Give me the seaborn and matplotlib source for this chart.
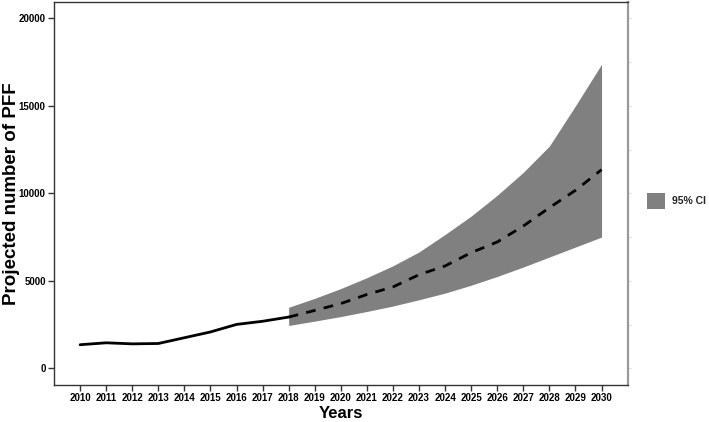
import matplotlib
matplotlib.use("Agg")
import matplotlib.pyplot as plt
from matplotlib import font_manager
import seaborn as sns
import pandas as pd
from matplotlib.patches import Patch

hist_years = [2010, 2011, 2012, 2013, 2014, 2015, 2016, 2017, 2018]
hist_values = [1350, 1460, 1400, 1420, 1750, 2080, 2510, 2690, 2930]

proj_years = [2018, 2019, 2020, 2021, 2022, 2023, 2024, 2025, 2026, 2027, 2028, 2029, 2030]
proj_values = [2930, 3310, 3700, 4220, 4650, 5350, 5850, 6610, 7220, 8130, 9180, 10170, 11350]
ci_lower = [2450, 2700, 2960, 3250, 3560, 3920, 4300, 4750, 5250, 5790, 6360, 6930, 7500]
ci_upper = [3490, 4000, 4560, 5180, 5860, 6650, 7650, 8700, 9890, 11200, 12700, 15000, 17370]

x_ticks = list(range(2010, 2031))
y_ticks = [0, 5000, 10000, 15000, 20000]
right_ticks = [0, 2500, 5000, 7500, 10000, 12500, 15000, 17500, 20000]

font_manager.fontManager.ttflist = [f for f in font_manager.fontManager.ttflist
                                    if "Narrow" not in f.name and "Narrow" not in f.fname]

sns.set_theme(style="ticks")
plt.rcParams['font.family'] = ['Liberation Sans', 'DejaVu Sans']

fig = plt.figure(figsize=(7.09, 4.22), dpi=100)
ax = fig.add_axes([0.0762, 0.0877, 0.809, 0.9076])

hist = pd.DataFrame({"year": hist_years, "value": hist_values})
proj = pd.DataFrame({"year": proj_years, "value": proj_values,
                     "lo": ci_lower, "hi": ci_upper})

ax.fill_between(proj["year"], proj["lo"], proj["hi"], color="#808080", linewidth=0)
sns.lineplot(data=hist, x="year", y="value", ax=ax, color="black", linewidth=2)
sns.lineplot(data=proj, x="year", y="value", ax=ax, color="black", linewidth=2,
             linestyle=(0, (3.5, 3)))

ax.set_xlim(2009.0, 2031.0)
ax.set_ylim(-950, 20930)
ax.set_xticks(x_ticks)
ax.set_xticklabels([str(y) for y in x_ticks], fontsize=7, fontweight="bold")
ax.set_yticks(y_ticks)
ax.set_yticklabels([str(y) for y in y_ticks], fontsize=7, fontweight="bold")
ax.tick_params(axis="both", which="major", length=4, width=1.0, color="#333333",
               direction="out", bottom=True, left=True, top=False, right=False,
               pad=2, labelcolor="black")
ax.set_xlabel("Years", fontsize=12, fontweight="bold", color="black")
ax.xaxis.set_label_coords(0.5, -0.055)
ax.xaxis.label.set_va("top")
ax.set_ylabel("Projected number of PFF", fontsize=13.5, fontweight="bold", color="black")
ax.yaxis.set_label_coords(-0.075, 0.5)
ax.yaxis.label.set_va("center")

for s in ax.spines.values():
    s.set_visible(True)
    s.set_color("#333333")
    s.set_linewidth(1.0)
ax.spines["right"].set_color("#999999")
ax.spines["right"].set_linewidth(1.5)

sec = ax.secondary_yaxis("right")
sec.set_yticks(right_ticks)
sec.set_yticklabels([])
sec.tick_params(length=2, width=0.8, color="#dddddd")
for s in sec.spines.values():
    s.set_color("#999999")
    s.set_linewidth(1.5)

handles = [Patch(facecolor="#808080", edgecolor="none", label="95% CI")]
leg = fig.legend(handles=handles, loc="center left", bbox_to_anchor=(0.912, 0.524),
                 frameon=False, prop={"weight": "bold", "size": 7.5},
                 handlelength=1.8, handleheight=2.0, handletextpad=0.65,
                 borderaxespad=0, borderpad=0)

fig.savefig("out.png", dpi=100)
